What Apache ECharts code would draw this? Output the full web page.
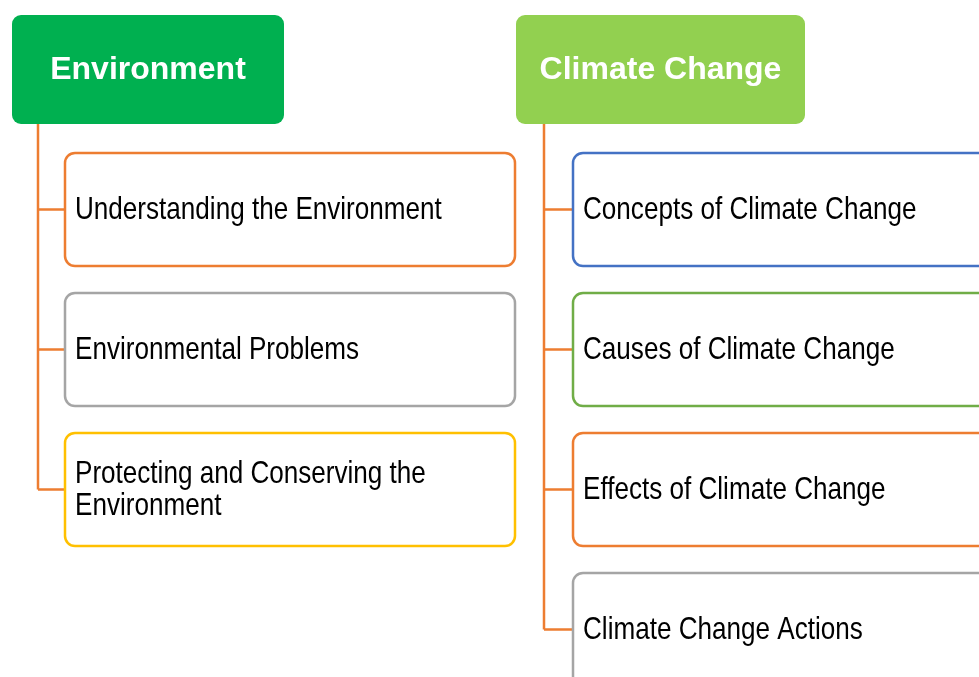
<!DOCTYPE html>
<html>
<head>
<meta charset="utf-8">
<script src="https://cdn.jsdelivr.net/npm/echarts@6/dist/echarts.min.js"></script>
<style>
html,body{margin:0;padding:0;background:#fff;}
#main{width:979px;height:677px;}
</style>
</head>
<body>
<div id="main"></div>
<script>
// ---- data ----
var headers = ['Environment', 'Climate Change'];
var environmentTopics = ['Understanding the Environment', 'Environmental Problems', 'Protecting and Conserving the Environment'];
var climateTopics = ['Concepts of Climate Change', 'Causes of Climate Change', 'Effects of Climate Change', 'Climate Change Actions'];

// ---- styles ----
var headerColors = ['#00B050', '#92D050'];
var environmentBorders = ['#ED7D31', '#A5A5A5', '#FFC000'];
var climateBorders = ['#4472C4', '#70AD47', '#ED7D31', '#A5A5A5'];
var connectorColor = '#ED7D31';
var narrow = 0.815; // horizontal condensation (Arial Narrow look)

// ---- layout (axis units = px) ----
var colHeaderX = [12, 516];
var colHeaderW = [272, 289];
var headerY = 15, headerH = 109;
var colSpineX = [38, 544];
var colBoxX = [65, 573];
var boxW = 450, boxH = 113, firstBoxY = 153, rowPitch = 140;

var topicLists = [environmentTopics, climateTopics];
var borderLists = [environmentBorders, climateBorders];

var headerData = headers.map(function (h, c) { return [c, -1]; });
var childData = [];
topicLists.forEach(function (list, c) {
  list.forEach(function (t, r) { childData.push([c, r]); });
});

var chart = echarts.init(document.getElementById('main'), null, {renderer: 'canvas'});

function renderHeader(params, api) {
  var c = api.value(0);
  var p0 = api.coord([colHeaderX[c], headerY]);
  var p1 = api.coord([colHeaderX[c] + colHeaderW[c], headerY + headerH]);
  var n = topicLists[c].length;
  var sTop = api.coord([colSpineX[c], headerY + headerH]);
  var sBot = api.coord([colSpineX[c], firstBoxY + (n - 1) * rowPitch + boxH / 2]);
  return {
    type: 'group',
    children: [
      {type: 'line', shape: {x1: sTop[0], y1: sTop[1], x2: sBot[0], y2: sBot[1]},
       style: {stroke: connectorColor, lineWidth: 2.5}},
      {type: 'rect', shape: {x: p0[0], y: p0[1], width: p1[0] - p0[0], height: p1[1] - p0[1], r: 9},
       style: {fill: headerColors[c]}},
      {type: 'text', x: (p0[0] + p1[0]) / 2, y: (p0[1] + p1[1]) / 2 + 1,
       style: {text: headers[c], x: 0, y: 0,
        align: 'center', verticalAlign: 'middle', fill: '#fff', fontWeight: 'bold',
        fontSize: 32, fontFamily: '"Liberation Sans", Arial, sans-serif'}}
    ]
  };
}

function renderChild(params, api) {
  var c = api.value(0), r = api.value(1);
  var y = firstBoxY + r * rowPitch;
  var p0 = api.coord([colBoxX[c], y]);
  var p1 = api.coord([colBoxX[c] + boxW, y + boxH]);
  var midY = (p0[1] + p1[1]) / 2;
  var sx = api.coord([colSpineX[c], y])[0];
  return {
    type: 'group',
    children: [
      {type: 'line', shape: {x1: sx, y1: midY, x2: p0[0], y2: midY},
       style: {stroke: connectorColor, lineWidth: 2.5}},
      {type: 'rect', shape: {x: p0[0], y: p0[1], width: p1[0] - p0[0], height: p1[1] - p0[1], r: 10},
       style: {fill: '#fff', stroke: borderLists[c][r], lineWidth: 2.5}},
      {type: 'text', x: p0[0] + 10, y: midY + 1, scaleX: narrow, scaleY: 1,
       style: {text: topicLists[c][r], x: 0, y: 0,
        align: 'left', verticalAlign: 'middle', fill: '#000',
        width: (boxW - 30) / narrow, overflow: 'break', lineHeight: 32,
        fontSize: 32, fontFamily: '"Liberation Sans", Arial, sans-serif'}}
    ]
  };
}

chart.setOption({
  animation: false,
  grid: {left: 0, right: 0, top: 0, bottom: 0},
  xAxis: {type: 'value', min: 0, max: 979, show: false},
  yAxis: {type: 'value', min: 0, max: 677, inverse: true, show: false},
  series: [
    {type: 'custom', renderItem: renderHeader, data: headerData, clip: true, z: 2},
    {type: 'custom', renderItem: renderChild, data: childData, clip: true, z: 3}
  ]
});
</script>
</body>
</html>
